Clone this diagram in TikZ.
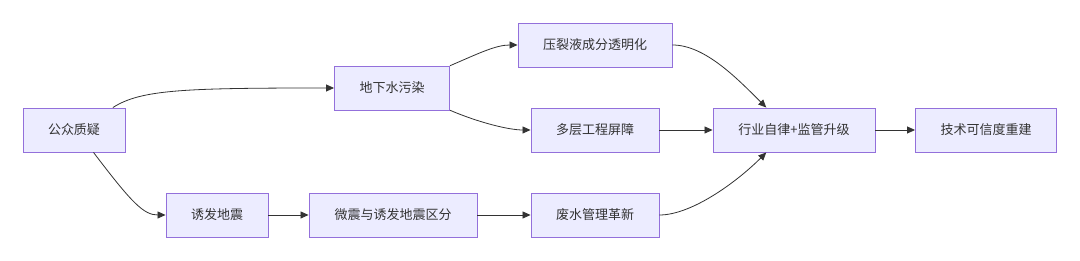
\documentclass[tikz,border=0pt]{standalone}
\usepackage{fontspec}
\setmainfont{Noto Sans CJK SC}
\usepackage{xcolor}
\usepackage{tikz}
\usetikzlibrary{arrows.meta,positioning,calc}

\definecolor{boxfill}{HTML}{ECECFF}
\definecolor{boxline}{HTML}{9370DB}
\definecolor{inkgray}{HTML}{333333}

\begin{document}
\begin{tikzpicture}[
  x=1pt, y=1pt,
  box/.style={draw=boxline, fill=boxfill, line width=0.9pt, align=center,
              minimum height=44pt, inner xsep=0pt, text=inkgray,
              font=\fontsize{13}{15}\selectfont},
  arr/.style={-{Triangle[length=8pt,width=7pt]}, draw=inkgray,
              line width=0.8pt}
]
\useasboundingbox (0,0) rectangle (1080,261);

\node[box, minimum width=102pt] (doubt) at (74,131) {公众质疑};
\node[box, minimum width=115pt] (water) at (392,173) {地下水污染};
\node[box, minimum width=154pt] (fluid) at (595,216) {压裂液成分透明化};
\node[box, minimum width=128pt] (barrier) at (595,131) {多层工程屏障};
\node[box, minimum width=102pt] (quake) at (217,46) {诱发地震};
\node[box, minimum width=168pt] (micro) at (393,46) {微震与诱发地震区分};
\node[box, minimum width=128pt] (waste) at (595,46) {废水管理革新};
\node[box, minimum width=162pt] (rule) at (794,131) {行业自律+监管升级};
\node[box, minimum width=141pt] (trust) at (986,131) {技术可信度重建};

\draw[arr] (doubt.30) .. controls +(28,18) and +(-150,0) .. (water.west);
\draw[arr] (doubt.-49) .. controls +(38,-50) and +(-22,0) .. (quake.west);
\draw[arr] (water.21) .. controls +(28,12) and +(-22,0) .. (fluid.west);
\draw[arr] (water.-21) .. controls +(28,-12) and +(-22,0) .. (barrier.west);
\draw[arr] (fluid.east) .. controls +(32,0) and +(-30,30) .. (rule.141);
\draw[arr] (barrier) -- (rule);
\draw[arr] (waste.east) .. controls +(32,0) and +(-30,-30) .. (rule.-141);
\draw[arr] (quake) -- (micro);
\draw[arr] (micro) -- (waste);
\draw[arr] (rule) -- (trust);
\end{tikzpicture}
\end{document}
